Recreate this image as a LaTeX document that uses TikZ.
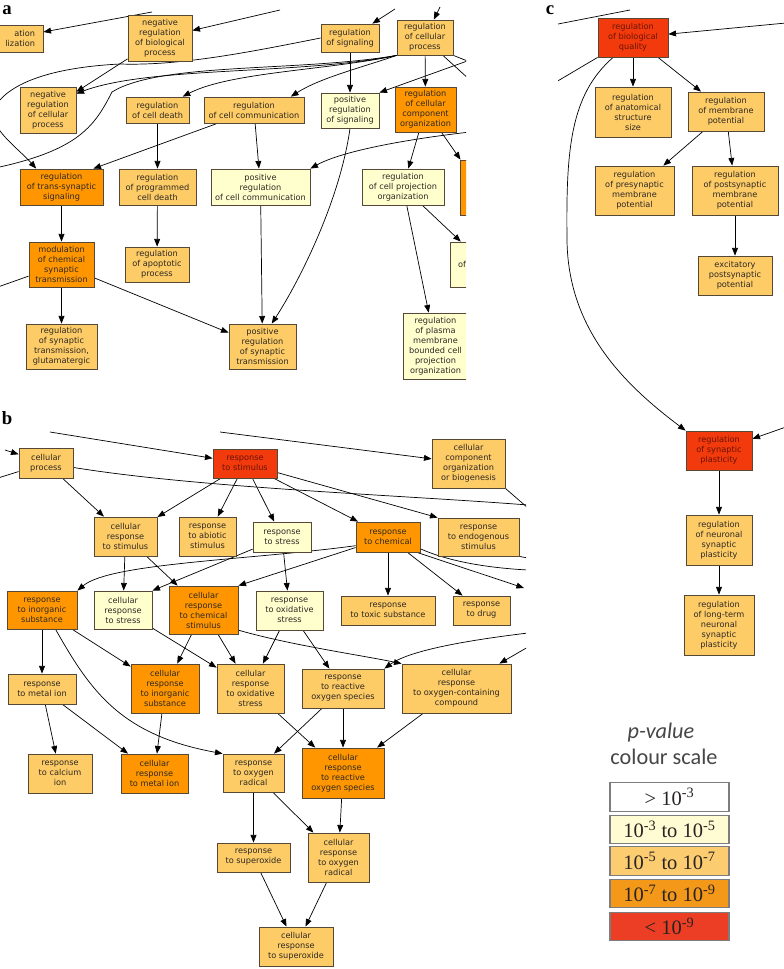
\documentclass[tikz,border=0pt]{standalone}
\usepackage{fontspec}
\usetikzlibrary{arrows.meta}
\newfontfamily\gofont{DejaVu Sans}
\newfontfamily\legfont{Carlito}
\newfontfamily\numfont{Liberation Serif}
\definecolor{lorange}{RGB}{254,204,102}
\definecolor{dorange}{RGB}{255,150,0}
\definecolor{redbox}{RGB}{242,58,12}
\definecolor{pale}{RGB}{255,255,206}
\definecolor{bord}{RGB}{85,72,55}
\definecolor{txt}{RGB}{45,40,35}
\definecolor{redtxt}{RGB}{105,20,5}
\definecolor{keyline}{RGB}{125,125,125}
\definecolor{keypale}{RGB}{255,252,212}
\definecolor{keylo}{RGB}{252,204,112}
\definecolor{keydk}{RGB}{243,152,25}
\definecolor{keyrd}{RGB}{236,62,36}
\definecolor{keytxt}{RGB}{40,35,35}
\definecolor{legtxt}{RGB}{70,70,70}
\pgfdeclarelayer{back}
\pgfsetlayers{back,main}
\begin{document}
\begin{tikzpicture}[x=0.03cm,y=-0.03cm,
  term/.style={draw=bord, line width=0.7pt, align=center, inner sep=1pt, text=txt,
    font={\gofont\fontsize{7}{8.5}\selectfont}},
  lo/.style={term, fill=lorange},
  dk/.style={term, fill=dorange},
  rd/.style={term, fill=redbox, text=redtxt},
  pl/.style={term, fill=pale},
  wh/.style 2 args={minimum width=#1*0.03cm, minimum height=#2*0.03cm},
  ed/.style={-{Triangle[length=6.5pt,width=5pt]}, line width=0.6pt},
  ln/.style={line width=0.6pt},
  keybox/.style={draw=keyline, line width=1.2pt, minimum width=119*0.03cm, minimum height=28.5*0.03cm,
    inner sep=0pt, text=keytxt, font={\numfont\fontsize{17.5}{17.5}\selectfont}},
  legline/.style={inner sep=0pt, text=legtxt, font={\legfont\fontsize{19}{19}\selectfont}},
  panlab/.style={inner sep=0pt, font={\numfont\bfseries\fontsize{16}{16}\selectfont}}]
\useasboundingbox (0,0) rectangle (784,969);
\begin{pgfonlayer}{back}
\fill[white] (0,0) rectangle (784,969);
\end{pgfonlayer}

\path
(7,10) node[panlab] (lab-a) {a}
(7,418) node[panlab] (lab-b) {b}
(550,10) node[panlab] (lab-c) {c};

% panel a
\begin{scope}
\clip (0,0) rectangle (466,392);
\path
(8,38.5) node[lo, wh={70}{27}, text width=1.62cm, align=right] (loc) {ation\\lization}
(160,38) node[lo, wh={64}{46}] (negbio) {negative\\regulation\\of biological\\process}
(48,110) node[lo, wh={56}{46}] (negcell) {negative\\regulation\\of cellular\\process}
(157.5,110) node[lo, wh={63}{26}] (death) {regulation\\of cell death}
(254,110) node[lo, wh={100}{26}] (comm) {regulation\\of cell communication}
(350,38) node[lo, wh={58}{28}] (sig) {regulation\\of signaling}
(425,37.5) node[lo, wh={56}{35}] (cproc) {regulation\\of cellular\\process}
(350,110.5) node[pl, wh={58}{35}] (possig) {positive\\regulation\\of signaling}
(425.5,109.5) node[dk, wh={61}{45}] (ccorg) {regulation\\of cellular\\component\\organization}
(61.5,187) node[dk, wh={83}{36}] (trans) {regulation\\of trans-synaptic\\signaling}
(157.5,187) node[lo, wh={77}{36}] (prog) {regulation\\of programmed\\cell death}
(260.5,187) node[pl, wh={99}{36}] (poscomm) {positive\\regulation\\of cell communication}
(403,187) node[pl, wh={82}{36}] (proj) {regulation\\of cell projection\\organization}
(480,187.5) node[dk, wh={40}{55}] (orr) {}
(61.5,264.5) node[dk, wh={65}{45}] (modchem) {modulation\\of chemical\\synaptic\\transmission}
(157,264.5) node[lo, wh={64}{35}] (apop) {regulation\\of apoptotic\\process}
(485,264.5) node[pl, wh={70}{45}, text width=1.62cm, align=left] (ofbox) {of}
(61.5,346.5) node[lo, wh={71}{45}] (glut) {regulation\\of synaptic\\transmission,\\glutamatergic}
(262.5,346.5) node[lo, wh={67}{45}] (possyn) {positive\\regulation\\of synaptic\\transmission}
(435.5,346) node[pl, wh={65}{66}] (plasma) {regulation\\of plasma\\membrane\\bounded cell\\projection\\organization};
\end{scope}

% panel c
\begin{scope}
\clip (558,0) rectangle (784,690);
\path
(633,37.5) node[rd, wh={70}{39}] (bioq) {regulation\\of biological\\quality}
(633,112) node[lo, wh={76}{50}] (anat) {regulation\\of anatomical\\structure\\size}
(726,111.5) node[lo, wh={76}{39}] (memb) {regulation\\of membrane\\potential}
(634.5,190.5) node[lo, wh={79}{49}] (pre) {regulation\\of presynaptic\\membrane\\potential}
(735,190.5) node[lo, wh={86}{49}] (post) {regulation\\of postsynaptic\\membrane\\potential}
(735,275.5) node[lo, wh={74}{39}] (excit) {excitatory\\postsynaptic\\potential}
(719,450.5) node[rd, wh={66}{39}] (plast) {regulation\\of synaptic\\plasticity}
(719,540) node[lo, wh={66}{50}] (neur) {regulation\\of neuronal\\synaptic\\plasticity}
(719,625) node[lo, wh={70}{60}] (ltp) {regulation\\of long-term\\neuronal\\synaptic\\plasticity};
\end{scope}

% panel b
\begin{scope}
\clip (0,398) rectangle (526,969);
\path
(46,463) node[lo, wh={54}{30}] (cp) {cellular\\process}
(245,463.5) node[rd, wh={64}{29}] (stim) {response\\to stimulus}
(468.5,463.5) node[lo, wh={73}{49}] (ccob) {cellular\\component\\organization\\or biogenesis}
(125.5,536.5) node[lo, wh={63}{39}] (cstim) {cellular\\response\\to stimulus}
(207.5,536.5) node[lo, wh={57}{39}] (abio) {response\\to abiotic\\stimulus}
(282,537) node[pl, wh={58}{30}] (stress) {response\\to stress}
(388,537) node[dk, wh={64}{30}] (chem) {response\\to chemical}
(478.5,537) node[lo, wh={81}{38}] (endo) {response\\to endogenous\\stimulus}
(42,610) node[dk, wh={70}{38}] (inorg) {response\\to inorganic\\substance}
(123,610) node[pl, wh={58}{38}] (cstress) {cellular\\response\\to stress}
(203.5,610) node[dk, wh={69}{48}] (cchem) {cellular\\response\\to chemical\\stimulus}
(289.5,610.5) node[pl, wh={67}{39}] (oxst) {response\\to oxidative\\stress}
(388,610.5) node[lo, wh={94}{29}] (toxic) {response\\to toxic substance}
(481.5,610.5) node[lo, wh={57}{29}] (drug) {response\\to drug}
(42,689) node[lo, wh={68}{30}] (metal) {response\\to metal ion}
(165,688.5) node[dk, wh={68}{49}] (cinorg) {cellular\\response\\to inorganic\\substance}
(250.5,688.5) node[lo, wh={67}{49}] (ccox) {cellular\\response\\to oxidative\\stress}
(343,688.5) node[lo, wh={82}{39}] (ros) {response\\to reactive\\oxygen species}
(456.5,688.5) node[lo, wh={109}{49}] (ccoxc) {cellular\\response\\to oxygen-containing\\compound}
(60,773.5) node[lo, wh={64}{39}] (calc) {response\\to calcium\\ion}
(154.5,773.5) node[dk, wh={67}{39}] (cmetal) {cellular\\response\\to metal ion}
(253.5,773) node[lo, wh={61}{38}] (oxrad) {response\\to oxygen\\radical}
(343,773) node[dk, wh={82}{50}] (cros) {cellular\\response\\to reactive\\oxygen species}
(253.5,857.5) node[lo, wh={73}{29}] (supox) {response\\to superoxide}
(338.5,857.5) node[lo, wh={61}{49}] (coxrad) {cellular\\response\\to oxygen\\radical}
(296,946.5) node[lo, wh={74}{39}] (csup) {cellular\\response\\to superoxide};
\end{scope}

% colour scale
\path
(661,733) node[legline] (pv) {\itshape p-value}
(664,757) node[legline] (cs) {colour scale}
(669.5,797) node[keybox, fill=white] (key-1) {> 10\textsuperscript{-3}}
(669.5,829.5) node[keybox, fill=keypale] (key-2) {10\textsuperscript{-3} to 10\textsuperscript{-5}}
(669.5,861) node[keybox, fill=keylo] (key-3) {10\textsuperscript{-5} to 10\textsuperscript{-7}}
(669.5,893.5) node[keybox, fill=keydk] (key-4) {10\textsuperscript{-7} to 10\textsuperscript{-9}}
(669.5,926.5) node[keybox, fill=keyrd] (key-5) {< 10\textsuperscript{-9}};

\path
(152,12) coordinate (aux-1)
(280,10) coordinate (aux-2)
(-5,168) coordinate (aux-3)
(395,9) coordinate (aux-4)
(440,7) coordinate (aux-5)
(470,62) coordinate (aux-6)
(470,80) coordinate (aux-7)
(470,60) coordinate (aux-8)
(470,132) coordinate (aux-9)
(-5,288) coordinate (aux-10)
(558,24) coordinate (aux-11)
(630,10) coordinate (aux-12)
(786,23) coordinate (aux-13)
(556,82) coordinate (aux-14)
(786,427) coordinate (aux-15)
(50,432) coordinate (aux-16)
(5,450) coordinate (aux-17)
(-2,478) coordinate (aux-18)
(528,505) coordinate (aux-19)
(220,432) coordinate (aux-20)
(528,508) coordinate (aux-21)
(528,570) coordinate (aux-22)
(524,588) coordinate (aux-23)
(528,558) coordinate (aux-24)
(528,633) coordinate (aux-25)
(528,647) coordinate (aux-26);

\begin{pgfonlayer}{back}
\begin{scope}
\clip (0,0) rectangle (466,392);
\draw[ed] (aux-1) -- (loc);
\draw[ed] (aux-2) -- (negbio);
\draw[ed] (negbio) -- (negcell);
\draw[ed] (cproc.south west) .. controls (300,75) and (150,66) .. (negcell.30);
\draw[ed] (cproc.south west) .. controls (330,70) and (230,72) .. (death.28);
\draw[ed] (cproc.south west) .. controls (360,68) and (320,78) .. (comm.20);
\draw[ln] (cproc.south west) .. controls (300,72) and (160,62) .. (112,92)
                .. controls (95,125) and (80,150) .. (aux-3);
\draw[ed] (sig.west) .. controls (250,52) and (180,66) .. (120,64)
                .. controls (60,67) and (10,80) .. (-6,108)
                .. controls (-15,125) and (20,150) .. (trans.144);
\draw[ed] (sig) -- (possig);
\draw[ed] (aux-4) -- (sig);
\draw[ed] (aux-5) -- (cproc);
\draw[ln] (cproc.south east) -- (aux-6);
\draw[ln] (cproc.-45) -- (aux-7);
\draw[ed] (aux-8) -- (possig.north east);
\draw[ed] (cproc) -- (ccorg);
\draw[ed] (ccorg) -- (proj);
\draw[ed] (ccorg) -- (orr);
\draw[ed] (aux-9) .. controls (400,140) and (340,152) .. (poscomm.north east);
\draw[ed] (comm) -- (poscomm);
\draw[ed] (comm) -- (trans.30);
\draw[ed] (death) -- (prog);
\draw[ed] (prog) -- (apop);
\draw[ed] (trans) -- (modchem);
\draw[ed] (modchem) -- (glut);
\draw[ed] (modchem) -- (possyn);
\draw[ln] (aux-10) -- (modchem);
\draw[ed] (poscomm) -- (possyn);
\draw[ed] (possig.south) .. controls (340,200) and (300,280) .. (possyn.68);
\draw[ed] (proj) -- (plasma);
\draw[ed] (proj) -- (ofbox);
\end{scope}
\begin{scope}
\clip (558,0) rectangle (784,690);
\draw[ln] (aux-11) -- (aux-12);
\draw[ed] (aux-13) -- (bioq);
\draw[ln] (bioq.south west) -- (aux-14);
\draw[ed] (bioq.-135) .. controls (570,95) and (566,150) .. (567,240)
                .. controls (568,330) and (625,385) .. (plast.north west);
\draw[ed] (bioq) -- (anat);
\draw[ed] (bioq) -- (memb);
\draw[ed] (memb) -- (pre);
\draw[ed] (memb) -- (post);
\draw[ed] (post) -- (excit);
\draw[ed] (aux-15) -- (plast);
\draw[ed] (plast) -- (neur);
\draw[ed] (neur) -- (ltp);
\end{scope}
\begin{scope}
\clip (0,398) rectangle (526,969);
\draw[ed] (aux-16) -- (stim);
\draw[ed] (aux-17) -- (cp);
\draw[ln] (aux-18) -- (cp);
\draw[ln] (cp) .. controls (200,488) and (400,495) .. (aux-19);
\draw[ed] (aux-20) -- (ccob);
\draw[ln] (ccob.south east) -- (aux-21);
\draw[ed] (cp) -- (cstim);
\draw[ed] (stim) -- (cstim);
\draw[ed] (stim) -- (abio);
\draw[ed] (stim) -- (stress);
\draw[ed] (stim) -- (chem);
\draw[ed] (stim) -- (endo.north west);
\draw[ed] (cstim) -- (cstress);
\draw[ed] (cstim) -- (cchem);
\draw[ed] (stress) -- (cstress.north east);
\draw[ed] (stress) -- (oxst);
\draw[ed] (chem.-165) .. controls (250,560) and (110,563) .. (inorg.north east);
\draw[ed] (chem) -- (cchem.north east);
\draw[ed] (chem) -- (toxic);
\draw[ed] (chem) -- (drug);
\draw[ln] (chem.-20) .. controls (450,562) and (490,568) .. (aux-22);
\draw[ed] (chem.-28) -- (aux-23);
\draw[ln] (endo.south east) -- (aux-24);
\draw[ed] (inorg) -- (metal);
\draw[ed] (inorg) -- (cinorg);
\draw[ed] (inorg.-55) .. controls (90,690) and (120,735) .. (oxrad.north west);
\draw[ed] (cstress) -- (ccox);
\draw[ed] (cchem) -- (cinorg);
\draw[ed] (cchem) -- (ccox);
\draw[ed] (cchem.-30) .. controls (290,645) and (360,655) .. (ccoxc.north west);
\draw[ed] (aux-25) .. controls (470,640) and (410,650) .. (ros.north east);
\draw[ed] (aux-26) -- (ccoxc);
\draw[ed] (oxst) -- (ccox);
\draw[ed] (oxst) -- (ros);
\draw[ed] (ccox) -- (cros);
\draw[ed] (ros) -- (oxrad);
\draw[ed] (ros) -- (cros);
\draw[ed] (ccoxc) -- (cros);
\draw[ed] (metal) -- (calc);
\draw[ed] (metal) -- (cmetal);
\draw[ed] (cinorg) -- (cmetal);
\draw[ed] (oxrad) -- (supox);
\draw[ed] (oxrad) -- (coxrad);
\draw[ed] (cros) -- (coxrad);
\draw[ed] (supox) -- (csup);
\draw[ed] (coxrad) -- (csup);
\end{scope}
\end{pgfonlayer}
\end{tikzpicture}
\end{document}
